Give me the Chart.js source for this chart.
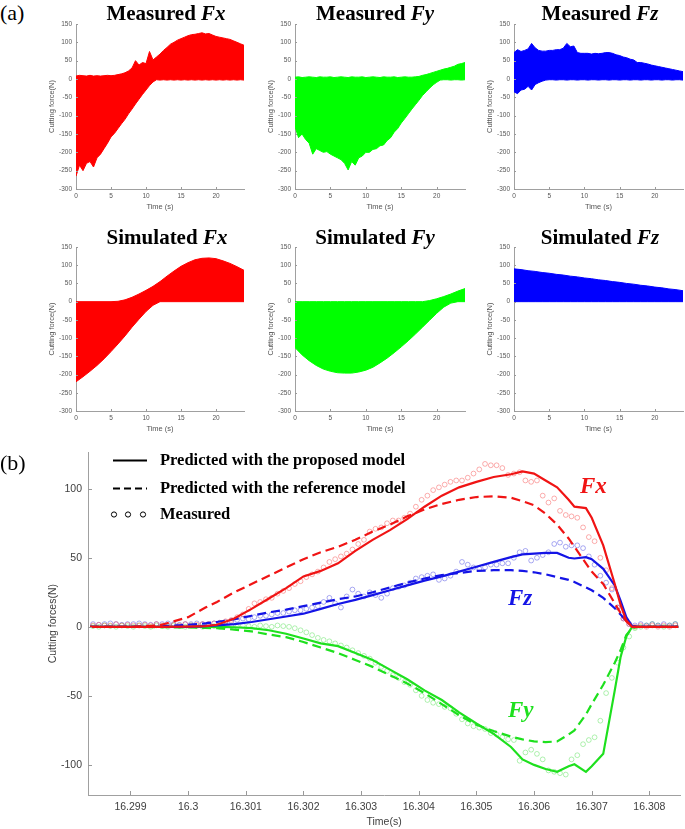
<!DOCTYPE html>
<html>
<head>
<meta charset="utf-8">
<script src="https://cdn.jsdelivr.net/npm/chart.js@4.4.1/dist/chart.umd.min.js"></script>
<style>
  html, body { margin: 0; padding: 0; background: #fff; }
  body { width: 685px; height: 829px; position: relative; overflow: hidden; }
  canvas { position: absolute; }
  .ttl { position: absolute; transform: translate(-50%, -50%); white-space: nowrap;
         font: bold 21px "Liberation Serif", "Times New Roman", serif; color: #000; }
  .ttl i { font-style: italic; }
  .tag { position: absolute; left: 0; font: 22px "Liberation Serif", "Times New Roman", serif; color: #000; }
</style>
</head>
<body>
<canvas id="mFx"></canvas>
<canvas id="mFy"></canvas>
<canvas id="mFz"></canvas>
<canvas id="sFx"></canvas>
<canvas id="sFy"></canvas>
<canvas id="sFz"></canvas>
<canvas id="big"></canvas>

<div class="tag" style="top:0px">(a)</div>
<div class="tag" style="top:450px">(b)</div>
<div class="ttl" style="left:166px;top:13px">Measured <i>Fx</i></div>
<div class="ttl" style="left:375px;top:13px">Measured <i>Fy</i></div>
<div class="ttl" style="left:600px;top:13px">Measured <i>Fz</i></div>
<div class="ttl" style="left:167px;top:237px">Simulated <i>Fx</i></div>
<div class="ttl" style="left:375px;top:237px">Simulated <i>Fy</i></div>
<div class="ttl" style="left:600px;top:237px">Simulated <i>Fz</i></div>

<script>
// ── (a) small panels: envelope of the force signal ─────────────────────────
const SMALL_X_TICKS = [0, 5, 10, 15, 20];
const SMALL_Y_TICKS = [-300, -250, -200, -150, -100, -50, 0, 50, 100, 150];

const T_MEAS = [0, 0.5, 1, 1.5, 2, 2.5, 3, 3.5, 4, 4.5, 5, 5.5, 6, 6.5, 7, 7.5, 8, 8.5, 9, 9.5,
  10, 10.5, 11, 11.5, 12, 12.5, 13, 13.5, 14, 14.5, 15, 15.5, 16, 16.5, 17, 17.5, 18, 18.5, 19, 19.5,
  20, 20.5, 21, 21.5, 22, 22.5, 23, 23.5, 24];

const MEAS_FX_UP = [8, 10, 9, 8, 10, 8, 9, 8, 9, 10, 9, 10, 12, 14, 17, 22, 30, 50, 38, 45,
  42, 75, 52, 60, 68, 78, 86, 95, 100, 106, 110, 114, 118, 121, 122, 124, 126, 123, 124, 120,
  116, 114, 112, 110, 108, 104, 100, 96, 92];
const MEAS_FX_LO = [-265, -235, -250, -230, -225, -240, -215, -205, -190, -175, -158, -148, -135, -122, -110, -95, -82, -68, -55, -42,
  -30, -18, -8, -2, -3, -2, -3, -2, -3, -2, -3, -2, -3, -2, -3, -2, -3, -2, -3, -2,
  -3, -2, -3, -2, -3, -2, -3, -2, -3];

const MEAS_FY_UP = [5, 6, 4, 5, 6, 5, 4, 6, 5, 5, 6, 4, 5, 6, 5, 4, 6, 5, 5, 6,
  4, 5, 6, 5, 4, 6, 5, 5, 6, 4, 5, 6, 5, 5, 6, 7, 10, 12, 15, 18,
  21, 24, 27, 29, 32, 35, 40, 42, 45];
const MEAS_FY_LO = [-130, -160, -150, -165, -175, -205, -190, -195, -200, -198, -205, -210, -215, -220, -230, -248, -225, -235, -215, -210,
  -200, -200, -192, -190, -182, -180, -168, -160, -145, -135, -120, -108, -95, -82, -70, -58, -45, -35, -25, -16,
  -9, -3, -2, -2, -3, -2, -2, -3, -2];

const MEAS_FZ_UP = [72, 80, 75, 78, 82, 97, 85, 78, 76, 76, 78, 78, 80, 80, 84, 97, 88, 90, 72, 70,
  70, 70, 68, 70, 69, 70, 72, 72, 70, 66, 64, 60, 58, 54, 52, 45, 45, 43, 41, 38,
  36, 34, 32, 30, 28, 26, 24, 22, 20];
const MEAS_FZ_LO = [-35, -40, -30, -28, -20, -30, -15, -10, -6, -3, -2, -2, -3, -2, -2, -3, -2, -2, -3, -2,
  -2, -3, -2, -2, -3, -2, -2, -3, -2, -2, -3, -2, -2, -3, -2, -2, -3, -2, -2, -3,
  -2, -2, -3, -2, -2, -3, -2, -2, -3];

const T_SIM = [0, 1, 2, 3, 4, 5, 6, 7, 8, 9, 10, 11, 12, 13, 14, 15, 16, 17, 18, 19, 20, 21, 22, 23, 24];
const SIM_FX_UP = [0, 0, 0, 0, 0, 0, 1, 5, 12, 21, 31, 42, 55, 70, 84, 97, 107, 115, 119, 120, 118, 112, 105, 96, 86];
const SIM_FX_LO = [-220, -206, -191, -175, -157, -137, -116, -94, -70, -48, -27, -10, 0, 0, 0, 0, 0, 0, 0, 0, 0, 0, 0, 0, 0];
const SIM_FY_UP = [0, 0, 0, 0, 0, 0, 0, 0, 0, 0, 0, 0, 0, 0, 0, 0, 0, 0, 0, 3, 8, 14, 21, 29, 36];
const SIM_FY_LO = [-126, -146, -162, -175, -185, -191, -195, -196, -196, -193, -188, -180, -168, -155, -140, -124, -107, -89, -70, -51, -32, -15, -4, 0, 0];
const SIM_FZ_UP = [90, 88, 85, 83, 80, 78, 75, 73, 70, 68, 65, 63, 60, 58, 55, 53, 50, 48, 45, 43, 40, 38, 35, 33, 30];
const SIM_FZ_LO = [0, 0, 0, 0, 0, 0, 0, 0, 0, 0, 0, 0, 0, 0, 0, 0, 0, 0, 0, 0, 0, 0, 0, 0, 0];

// ── (b) one tooth pass ─────────────────────────────────────────────────────
const BIG_X_TICKS = [16.299, 16.3, 16.301, 16.302, 16.303, 16.304, 16.305, 16.306, 16.307, 16.308];
const BIG_Y_TICKS = [-100, -50, 0, 50, 100];

const LINE_T = [16.2983, 16.2990, 16.2995, 16.3000, 16.3003, 16.3005, 16.3008, 16.3011, 16.3014, 16.3017,
  16.3020, 16.3023, 16.3026, 16.3029, 16.3032, 16.3035, 16.3038, 16.3041, 16.3044, 16.3047,
  16.3050, 16.3053, 16.3056, 16.3058, 16.3060, 16.3062, 16.3064, 16.3066, 16.3067, 16.3069,
  16.3070, 16.3072, 16.3074, 16.3075, 16.3076, 16.3077, 16.3078, 16.3080, 16.3085];

const PROP_FX = [0, 0, 0, 0.2, 0.5, 1.5, 6, 13, 20.5, 28, 36.5, 40.5, 46, 55, 63, 70, 78, 87, 95, 101,
  105, 108.5, 110.5, 112.5, 111, 106, 101, 92, 87, 86, 79, 59, 31, 16, 4.5, 0, 0, 0, 0];
const REF_FX = [0, 0, 1, 7, 14, 18, 25, 31, 37, 43, 49, 54, 58, 63, 69, 74, 80, 85, 89, 92,
  94, 94.5, 93.5, 91, 88, 82, 74, 64, 58, 46, 40, 31, 17, 10, 4, 0, 0, 0, 0];
const PROP_FY = [0, 0, 0, 0, 0, 0, -0.3, -1, -2.5, -5, -8.5, -12, -14, -19, -24, -31, -38, -46, -53, -62,
  -70, -77.5, -87, -96, -100, -103, -105, -101, -99.5, -105, -101, -92, -46, -22, -7, 0, 0, 0, 0];
const REF_FY = [0, 0, -0.2, -0.5, -0.8, -1, -2, -3.3, -5.5, -7.5, -11, -15, -19, -24, -29, -35, -41, -48, -56, -64,
  -71, -75.5, -79.5, -81.5, -83, -83.5, -83, -78, -75, -63.5, -56, -42, -26, -17, -6, -1, 0, 0, 0];
const PROP_FZ = [0, 0, 0, 0, 0.5, 1, 2, 3.5, 5.5, 7.5, 9.5, 13, 16.5, 19.5, 23, 26.5, 30, 33.5, 36.5, 40,
  43.5, 47, 50.5, 52.5, 53, 53.5, 53.5, 50, 49.5, 50.5, 49, 42, 30, 19, 7, 0.5, 0, 0, 0];
const REF_FZ = [0, 0, 0.3, 1.5, 2.5, 3.5, 5.5, 8, 10.5, 12.5, 15, 17.5, 20, 22, 25, 28.5, 32, 35, 37.5, 39,
  40.5, 41, 41, 40.5, 39.5, 38, 36, 34, 32.5, 28.5, 26.5, 21, 13.5, 9, 4, 0.5, 0, 0, 0];

const MEAS_T0 = 16.29835;
const MEAS_DT = 0.0001;
const MEAS_FX = [1, 1.5, 1, 1, 2, 1, 1.5, 1, 1, 1.5, 1, 2, 1, 1, 1.5, 1, 2, 1, 1.5, 2,
  2, 2.5, 3, 4, 5, 7, 9, 13, 17, 18, 20, 21, 24, 26, 28, 31, 33, 36, 38, 40,
  43, 47, 49, 51, 53, 56, 60, 63, 69, 71, 72, 75, 77, 77, 79, 82, 87, 92, 95, 99,
  101, 103, 105, 106, 106, 108, 111, 114, 118, 117, 117, 115, 110, 111, 112, 106, 105, 106, 95, 90,
  93, 84, 81, 80, 79, 72, 65, 62, 50, 41, 28, 14, 6, 2, 0, 1, 0, 1, 0, 1,
  0, 1];
const MEAS_FY = [0.5, 0, 1, 0.5, 0, 1, 0.5, 0, 1, 0.5, 0, 1, 0.5, 0, 1, 0.5, 0, 1, 0.5, 0,
  1, 0.5, 0, 1, 0.5, 0, 1, 0.5, 0, 1, 0.5, 0, 1, 0.5, 0, -1, -2.5, -4, -6, -8,
  -9.5, -10.5, -12, -13.5, -15, -17, -19, -21, -23, -26, -29, -32, -35, -37, -40, -42, -46, -50, -53, -55,
  -56, -58, -59, -63, -67, -70, -72, -73, -74, -77, -78, -80, -81.5, -82, -97, -91, -89, -92, -96, -104,
  -105, -106, -107, -96, -93, -85, -82, -80, -68, -48, -37, -26, -15, -7, -1, 0, 1, 2, 1, 0,
  1, 2];
const MEAS_FZ = [2, 1.5, 2, 2.5, 2, 1.5, 2, 2, 2.5, 2, 1.5, 2, 2, 2.5, 2, 1.5, 2, 2, 2.5, 2,
  2, 2.5, 3, 3.5, 4, 5, 6, 5.5, 7, 8, 8, 9, 10, 10, 11, 12, 12, 13, 14, 15,
  18, 21, 17, 14, 22, 27, 24, 22, 25, 23, 21, 24, 28, 29, 30, 32, 35, 36, 37, 38,
  34, 35, 37, 40, 47, 45, 43, 42, 43, 45, 45, 46, 46, 50, 54, 55, 48, 50, 52, 54,
  60, 61, 58, 59, 59, 57, 51, 45, 37, 32, 27, 14, 6, 2, 1, 2, 1, 2, 1, 2,
  1, 2];

const COL = { red: '#ff0000', green: '#00ff00', blue: '#0000ff' };
const LINE_COL = { red: '#f01414', green: '#1ee01e', blue: '#1414e6' };
const MEAS_COL = { red: 'rgba(245,70,70,0.55)', green: 'rgba(60,220,60,0.5)', blue: 'rgba(60,60,225,0.55)' };
const SANS = 'Arial, "Liberation Sans", sans-serif';
const SERIF = '"Liberation Serif", "Times New Roman", serif';

const pts = (xs, ys) => xs.map((x, i) => ({ x, y: ys[i] }));

// inward tick marks (MATLAB style)
const inTicks = {
  id: 'inTicks',
  afterDraw(chart, args, opts) {
    const { ctx, chartArea: a, scales: { x, y } } = chart;
    ctx.save();
    ctx.strokeStyle = opts.color || '#999';
    ctx.lineWidth = 1;
    ctx.beginPath();
    x.ticks.forEach(t => {
      const px = Math.round(x.getPixelForValue(t.value)) + 0.5;
      ctx.moveTo(px, a.bottom); ctx.lineTo(px, a.bottom - opts.len);
    });
    y.ticks.forEach(t => {
      const py = Math.round(y.getPixelForValue(t.value)) + 0.5;
      ctx.moveTo(a.left, py); ctx.lineTo(a.left + opts.len, py);
    });
    ctx.stroke();
    ctx.restore();
  }
};

function place(id, left, top, w, h) {
  const c = document.getElementById(id);
  c.width = w; c.height = h;
  c.style.left = left + 'px'; c.style.top = top + 'px';
  c.style.width = w + 'px'; c.style.height = h + 'px';
  return c;
}

// area: plot box in page pixels
function smallPanel(id, area, times, upper, lower, color) {
  const c = place(id, area.l - 40, area.t - 8, area.r - area.l + 44, area.b - area.t + 34);
  const tickFont = { size: 6.5, family: SANS };
  const titleFont = { size: 7.5, family: SANS };
  return new Chart(c, {
    type: 'line',
    data: {
      datasets: [
        { data: pts(times, upper), borderColor: color, backgroundColor: color, borderWidth: 1,
          pointRadius: 0, fill: '+1', tension: 0 },
        { data: pts(times, lower), borderColor: color, backgroundColor: color, borderWidth: 1,
          pointRadius: 0, fill: false, tension: 0 },
      ],
    },
    options: {
      responsive: false, animation: false, events: [],
      layout: { padding: { top: 8, right: 4, left: 0, bottom: 0 } },
      plugins: { legend: { display: false }, tooltip: { enabled: false }, inTicks: { len: 2 } },
      scales: {
        x: {
          type: 'linear', min: 0, max: 24,
          afterBuildTicks: s => { s.ticks = SMALL_X_TICKS.map(v => ({ value: v })); },
          afterFit: s => { s.height = 26; },
          grid: { display: false, drawTicks: false },
          border: { display: true, color: '#a0a0a0' },
          ticks: { font: tickFont, color: '#555', padding: 3.8, maxRotation: 0 },
          title: { display: true, text: 'Time (s)', font: titleFont, color: '#555', padding: { top: 0, bottom: 3.5 } },
        },
        y: {
          type: 'linear', min: -300, max: 150,
          afterBuildTicks: s => { s.ticks = SMALL_Y_TICKS.map(v => ({ value: v })); },
          afterFit: s => { s.width = 40; },
          grid: { display: false, drawTicks: false },
          border: { display: true, color: '#a0a0a0' },
          ticks: { font: tickFont, color: '#555', padding: 4 },
          title: { display: true, text: 'Cutting force(N)', font: titleFont, color: '#555', padding: { top: 11.2, bottom: 0 } },
        },
      },
    },
    plugins: [inTicks],
  });
}

smallPanel('mFx', { l: 76, r: 244, t: 24, b: 189 }, T_MEAS, MEAS_FX_UP, MEAS_FX_LO, COL.red);
smallPanel('mFy', { l: 295, r: 465, t: 24, b: 189 }, T_MEAS, MEAS_FY_UP, MEAS_FY_LO, COL.green);
smallPanel('mFz', { l: 514, r: 683, t: 24, b: 189 }, T_MEAS, MEAS_FZ_UP, MEAS_FZ_LO, COL.blue);
smallPanel('sFx', { l: 76, r: 244, t: 247, b: 411 }, T_SIM, SIM_FX_UP, SIM_FX_LO, COL.red);
smallPanel('sFy', { l: 295, r: 465, t: 247, b: 411 }, T_SIM, SIM_FY_UP, SIM_FY_LO, COL.green);
smallPanel('sFz', { l: 514, r: 683, t: 247, b: 411 }, T_SIM, SIM_FZ_UP, SIM_FZ_LO, COL.blue);

// ── (b) big panel ──────────────────────────────────────────────────────────
const measT = MEAS_FX.map((_, i) => MEAS_T0 + i * MEAS_DT);

function lineSet(ys, color, dashed) {
  return { data: pts(LINE_T, ys), borderColor: color, borderWidth: 2.2, pointRadius: 0,
           borderDash: dashed ? [9, 5] : [], fill: false, tension: 0 };
}
function measSet(ys, color) {
  return { data: pts(measT, ys), showLine: false, pointRadius: 2.4, pointBorderWidth: 0.8,
           pointBorderColor: color, pointBackgroundColor: 'rgba(0,0,0,0)', borderColor: color };
}

// legend + curve labels, drawn in canvas pixels (canvas top = page y 440)
const bigDecor = {
  id: 'bigDecor',
  afterDraw(chart) {
    const ctx = chart.ctx;
    ctx.save();
    ctx.strokeStyle = '#000'; ctx.lineWidth = 2;
    ctx.beginPath(); ctx.moveTo(113, 20.5); ctx.lineTo(147, 20.5); ctx.stroke();
    ctx.setLineDash([7, 4]);
    ctx.beginPath(); ctx.moveTo(113, 48.5); ctx.lineTo(147, 48.5); ctx.stroke();
    ctx.setLineDash([]);
    ctx.lineWidth = 1;
    [114, 128, 143].forEach(x => { ctx.beginPath(); ctx.arc(x, 74.5, 2.6, 0, Math.PI * 2); ctx.stroke(); });
    ctx.fillStyle = '#000';
    ctx.font = 'bold 16.5px ' + SERIF;
    ctx.textBaseline = 'middle';
    ctx.fillText('Predicted with the proposed model', 160, 21);
    ctx.fillText('Predicted with the reference model', 160, 48.5);
    ctx.fillText('Measured', 160, 75);
    ctx.font = 'italic bold 23px ' + SERIF;
    ctx.textBaseline = 'alphabetic';
    ctx.fillStyle = LINE_COL.red;   ctx.fillText('Fx', 580, 53);
    ctx.fillStyle = LINE_COL.blue;  ctx.fillText('Fz', 508, 165);
    ctx.fillStyle = LINE_COL.green; ctx.fillText('Fy', 508, 277);
    ctx.restore();
  }
};

const bigCanvas = place('big', 0, 440, 685, 389);
const bigFont = { size: 10.5, family: SANS };
new Chart(bigCanvas, {
  type: 'line',
  data: {
    datasets: [
      lineSet(PROP_FX, LINE_COL.red, false),
      lineSet(REF_FX, LINE_COL.red, true),
      lineSet(PROP_FZ, LINE_COL.blue, false),
      lineSet(REF_FZ, LINE_COL.blue, true),
      lineSet(PROP_FY, LINE_COL.green, false),
      lineSet(REF_FY, LINE_COL.green, true),
      measSet(MEAS_FX, MEAS_COL.red),
      measSet(MEAS_FZ, MEAS_COL.blue),
      measSet(MEAS_FY, MEAS_COL.green),
    ],
  },
  options: {
    responsive: false, animation: false, events: [],
    layout: { padding: { top: 12, right: 2, left: 0, bottom: 0 } },
    plugins: { legend: { display: false }, tooltip: { enabled: false }, inTicks: { len: 4, color: '#999' } },
    scales: {
      x: {
        type: 'linear', min: 16.298263, max: 16.308535,
        afterBuildTicks: s => { s.ticks = BIG_X_TICKS.map(v => ({ value: v })); },
        afterFit: s => { s.height = 34; },
        grid: { display: false, drawTicks: false },
        border: { display: true, color: '#a0a0a0' },
        ticks: { font: bigFont, color: '#404040', padding: 5.4, maxRotation: 0,
                 callback: v => String(+v.toFixed(3)) },
        title: { display: true, text: 'Time(s)', font: bigFont, color: '#404040', padding: { top: 0, bottom: 0.7 } },
      },
      y: {
        type: 'linear', min: -121.8, max: 126.4,
        afterBuildTicks: s => { s.ticks = BIG_Y_TICKS.map(v => ({ value: v })); },
        afterFit: s => { s.width = 88; },
        grid: { display: false, drawTicks: false },
        border: { display: true, color: '#a0a0a0' },
        ticks: { font: bigFont, color: '#404040', padding: 6 },
        title: { display: true, text: 'Cutting forces(N)', font: bigFont, color: '#404040', padding: { top: 46.7, bottom: 0 } },
      },
    },
  },
  plugins: [inTicks, bigDecor],
});
</script>
</body>
</html>
